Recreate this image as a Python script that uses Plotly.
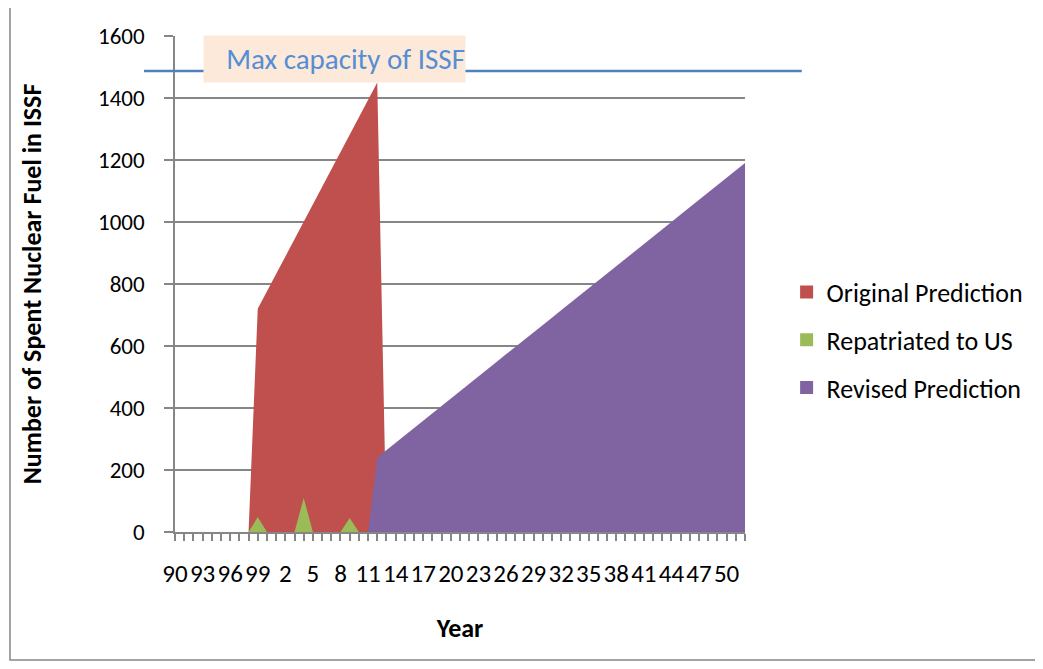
import plotly.graph_objects as go

# years on the category axis (points sit on the tick marks)
years = list(range(1990, 2053))

original_prediction = [
    0, 0, 0, 0, 0, 0, 0, 0, 0,                     # 1990-1998
    720, 776, 832, 888, 945, 1001, 1057, 1113,     # 1999-2006
    1169, 1225, 1282, 1338, 1394, 1450,            # 2007-2012
    0, 0, 0, 0, 0, 0, 0, 0, 0, 0,                  # 2013-2022
    0, 0, 0, 0, 0, 0, 0, 0, 0, 0,
    0, 0, 0, 0, 0, 0, 0, 0, 0, 0,
    0, 0, 0, 0, 0, 0, 0, 0, 0, 0,                  # 2043-2052
]

repatriated_to_us = [
    0, 0, 0, 0, 0, 0, 0, 0, 0,                     # 1990-1998
    48, 0, 0, 0, 0, 110, 0, 0, 0, 0, 45, 0,        # 1999-2010
    0, 0, 0, 0, 0, 0, 0, 0, 0, 0,
    0, 0, 0, 0, 0, 0, 0, 0, 0, 0,
    0, 0, 0, 0, 0, 0, 0, 0, 0, 0,
    0, 0, 0, 0, 0, 0, 0, 0, 0, 0,
    0, 0,                                          # 2051-2052
]

revised_prediction = [
    0, 0, 0, 0, 0, 0, 0, 0, 0, 0, 0,               # 1990-2000
    0, 0, 0, 0, 0, 0, 0, 0, 0, 0, 0,               # 2001-2011
    240, 264, 288, 311, 335, 359, 383, 406, 430, 454,
    478, 501, 525, 549, 573, 596, 620, 644, 668, 691,
    715, 739, 763, 786, 810, 834, 858, 881, 905, 929,
    953, 976, 1000, 1024, 1048, 1071, 1095, 1119, 1143, 1166,
    1190,                                          # 2052
]

tick_years = years[0:61:3]
tick_text = ["90", "93", "96", "99", "2", "5", "8", "11", "14", "17", "20",
             "23", "26", "29", "32", "35", "38", "41", "44", "47", "50"]

max_capacity = 1487

RED = "#C0504D"
GREEN = "#9BBB59"
PURPLE = "#8064A2"
BLUE = "#4F81BD"
GRID = "#868686"
FONT = "Carlito, Lato, sans-serif"

series = [
    ("Original Prediction", original_prediction, RED),
    ("Repatriated to US", repatriated_to_us, GREEN),
    ("Revised Prediction", revised_prediction, PURPLE),
]

fig = go.Figure()

for name, vals, col in series:
    fig.add_trace(go.Scatter(
        x=years, y=vals, mode="lines", fill="tozeroy",
        fillcolor=col, line=dict(width=0, color=col),
        name=name, showlegend=False,
    ))

# square legend keys like the excel legend
for name, vals, col in series:
    fig.add_trace(go.Scatter(
        x=[None], y=[None], mode="markers", name=name, legendgroup=name,
        marker=dict(symbol="square", size=13, color=col),
    ))

# page body adds 8px, so the figure is a bit smaller than the window
fig.update_layout(
    width=1035, height=661,
    margin=dict(l=167, r=298, t=28, b=137),
    paper_bgcolor="white", plot_bgcolor="white",
    font=dict(family=FONT, color="black"),
    legend=dict(
        x=1.073, y=0.387, xanchor="left", yanchor="middle",
        font=dict(size=26), tracegroupgap=11, itemwidth=30,
    ),
)

fig.update_xaxes(
    range=[1990, 2052], automargin=False,
    tickvals=tick_years, ticktext=tick_text,
    ticks="outside", ticklen=7, tickwidth=1.5, tickcolor=GRID,
    minor=dict(ticks="outside", ticklen=7, tickwidth=1.5, tickcolor=GRID,
               tick0=1990, dtick=1, showgrid=False),
    showline=True, linecolor=GRID, linewidth=1.5,
    showgrid=False, zeroline=False,
    tickfont=dict(size=25), ticklabelstandoff=11,
    title=dict(text="<b>Year</b>", font=dict(size=26), standoff=31),
)

fig.update_yaxes(
    range=[0, 1600], dtick=200, automargin=False,
    ticks="outside", ticklen=9, tickwidth=1.5, tickcolor=GRID,
    showline=True, linecolor=GRID, linewidth=1.5,
    showgrid=True, gridcolor=GRID, gridwidth=1.5, zeroline=False,
    tickfont=dict(size=23), ticklabelstandoff=15,
    title=dict(text="<b>Number of Spent Nuclear Fuel in ISSF</b>",
               font=dict(size=26), standoff=49),
)

# max capacity line drawn across the chart
fig.add_shape(type="line", xref="paper", yref="y",
              x0=-0.0544, x1=1.0996, y0=max_capacity, y1=max_capacity,
              line=dict(color=BLUE, width=2.5), layer="above")

fig.add_annotation(
    xref="paper", yref="paper", x=0.2797, y=0.9536,
    xanchor="center", yanchor="middle",
    text="Max capacity of ISSF", showarrow=False,
    font=dict(size=29, color="#558ED5"),
    bgcolor="#FDE9D9", width=261, height=46, align="right", borderpad=0,
)

# chart border
fig.add_shape(type="rect", xref="paper", yref="paper",
              x0=-0.2895, x1=1.5105, y0=-0.258, y1=1.2,
              line=dict(color=GRID, width=1.5), layer="below")

fig.write_html("out.html")
